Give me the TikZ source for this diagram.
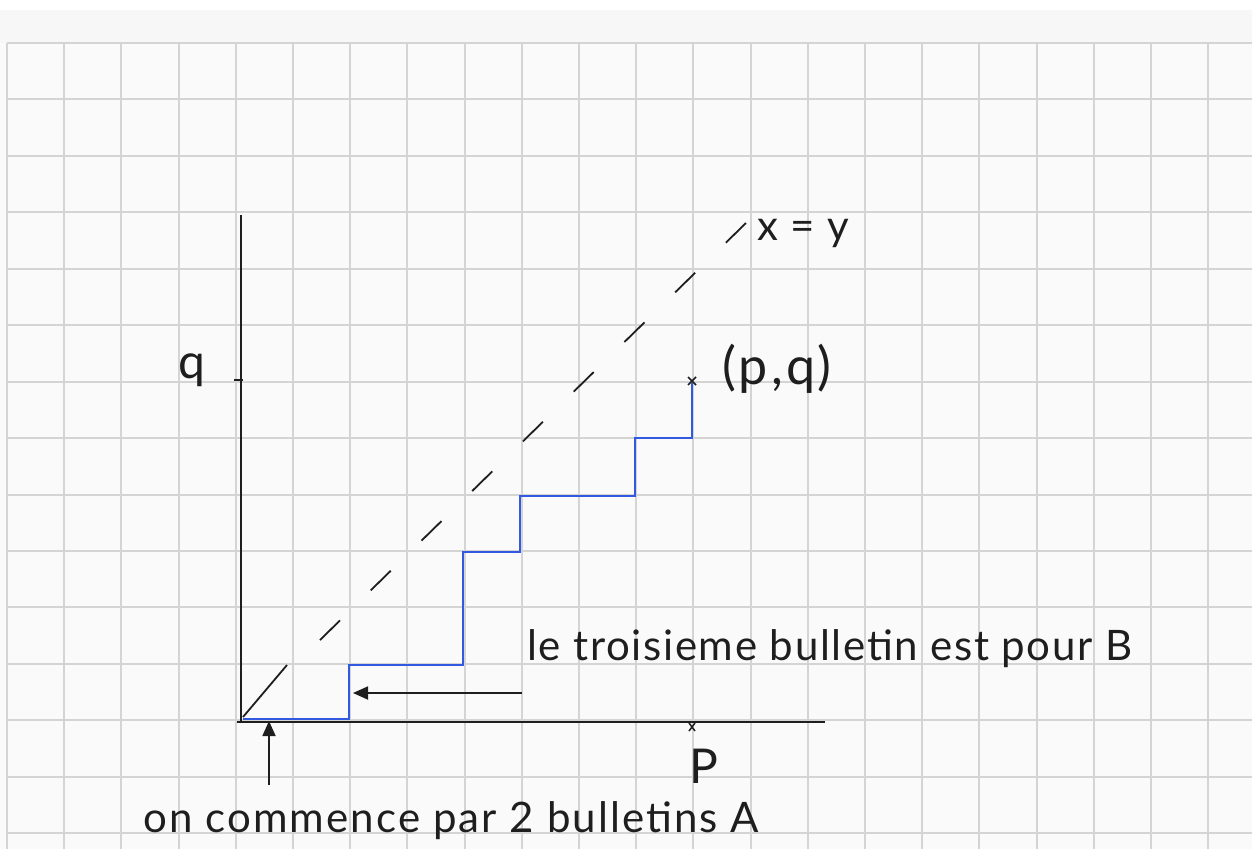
\documentclass[tikz,border=0pt]{standalone}
\usepackage{fontspec}
\setmainfont{Lato}
\usetikzlibrary{arrows.meta}
\definecolor{paper}{RGB}{250,250,250}
\definecolor{band}{RGB}{247,247,247}
\definecolor{gridc}{RGB}{212,212,212}
\definecolor{stair}{RGB}{50,90,225}
\definecolor{ink}{RGB}{30,30,30}
\begin{document}
\begin{tikzpicture}[x=1pt,y=-1pt,
  gridline/.style={draw=gridc,line width=1.6pt},
  axis/.style={draw=ink,line width=2pt},
  stairline/.style={draw=stair,line width=2.4pt,line join=miter},
  diag/.style={draw=ink,line width=1.8pt},
  markstroke/.style={draw=ink,line width=1.5pt},
  pointer/.style={draw=ink,line width=1.8pt,-{Triangle[length=15pt,width=13pt]}},
  hand/.style={font=\fontsize{42}{50}\selectfont\addfontfeature{LetterSpace=4},text=ink,inner sep=0pt,anchor=base west},
]
\useasboundingbox (0,0) rectangle (1252,849);
\fill[paper] (0,0) rectangle (1252,849);
\fill[white] (0,0) rectangle (1252,10);
\fill[band] (0,10) rectangle (1252,43);
\foreach \k in {0,...,21} {
  \pgfmathsetmacro{\gx}{round(7+57.2*\k)}
  \draw[gridline] (\gx,43) -- (\gx,849);
}
\foreach \k in {0,...,14} {
  \pgfmathsetmacro{\gy}{round(43+56.45*\k)}
  \draw[gridline] (7,\gy) -- (1252,\gy);
}

% axes
\draw[axis] (241,215) -- (241,722);
\draw[axis] (237,722) -- (825,722);
\draw[markstroke] (234,380) -- (243,380);

% diagonal x=y
\draw[diag] (243,717) -- (287,665);
\draw[diag,dash pattern=on 28pt off 43pt] (320,640) -- (747,222);

% staircase
\draw[stairline] (243,719) -- (349,719) -- (349,665) -- (463,665) -- (463,552)
  -- (520,552) -- (520,496) -- (635,496) -- (635,438) -- (692,438) -- (692,383);

% crosses
\draw[markstroke] (688,377) -- (696,385) (688,385) -- (696,377);
\draw[markstroke] (689,723) -- (695,731) (689,731) -- (695,723);

% labels
\node[hand] (lblxy) at (757,240) {x = y};
\node[hand,font=\fontsize{52}{60}\selectfont\addfontfeature{LetterSpace=6}] (lblpq) at (722,384) {(p,q)};
\node[hand,font=\fontsize{48}{56}\selectfont] (lblq) at (178,378) {q};
\node[hand,font=\fontsize{48}{56}\selectfont] (lblp) at (689,783) {P};
\node[hand,font=\fontsize{42}{50}\selectfont\addfontfeature{LetterSpace=5}] (lblA) at (143,832) {on commence par 2 bulletins A};
\node[hand] (lblB) at (527,660) {le troisieme bulletin est pour B};

% arrows
\coordinate (bTail) at (522,693);
\coordinate (bTip) at (353,693);
\draw[pointer] (bTail) -- (bTip);
\coordinate (aTail) at (269,785);
\coordinate (aTip) at (269,721);
\draw[pointer] (aTail) -- (aTip);
\end{tikzpicture}
\end{document}
